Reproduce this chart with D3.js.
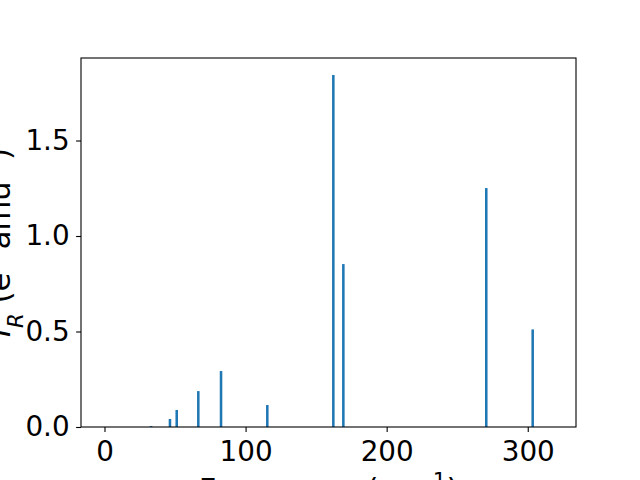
<!DOCTYPE html>
<html><head><meta charset="utf-8">
<script src="https://cdn.jsdelivr.net/npm/d3@7"></script>
<style>body{margin:0;background:#fff}svg{display:block}text{font-family:"DejaVu Sans",sans-serif}</style>
</head><body>
<script>
const frequencies = [33.0, 46.4, 51.2, 66.5, 82.6, 115.4, 162.2, 169.3, 270.6, 303.5];
const intensities = [0.005, 0.042, 0.089, 0.188, 0.293, 0.115, 1.843, 0.853, 1.251, 0.511];
const xTicks = [0, 100, 200, 300];
const yTicks = [0.0, 0.5, 1.0, 1.5];

const W = 640, H = 480;
const m = {left: 81, right: 576, top: 58, bottom: 427};
const svg = d3.select("body").append("svg").attr("width", W).attr("height", H);

const x = d3.scaleLinear().domain([-16.65, 334.2]).range([m.left, m.right]);
const y = d3.scaleLinear().domain([0, 1.932]).range([m.bottom, m.top]);
const barW = 1.8;

svg.append("g").selectAll("rect").data(frequencies).join("rect")
  .attr("x", (d) => x(d - barW / 2))
  .attr("width", x(barW) - x(0))
  .attr("y", (d, i) => y(intensities[i]))
  .attr("height", (d, i) => y(0) - y(intensities[i]))
  .attr("fill", "#1f77b4");

const fs = 27.8, lfs = 30.6;
const xAxis = svg.append("g").attr("transform", `translate(0,${m.bottom})`)
  .call(d3.axisBottom(x).tickValues(xTicks).tickFormat(d3.format("d")).tickSize(4.9).tickPadding(9.6));
const yAxis = svg.append("g").attr("transform", `translate(${m.left},0)`)
  .call(d3.axisLeft(y).tickValues(yTicks).tickFormat(d3.format(".1f")).tickSize(4.9).tickPadding(6.5));
[xAxis, yAxis].forEach(g => {
  g.select(".domain").remove();
  g.selectAll("line").attr("stroke", "#000").attr("stroke-width", 1.1);
  g.selectAll("text").attr("font-size", fs).attr("fill", "#000").attr("font-family", "DejaVu Sans");
});

svg.append("rect").attr("x", m.left).attr("y", m.top)
  .attr("width", m.right - m.left).attr("height", m.bottom - m.top)
  .attr("fill", "none").attr("stroke", "#000").attr("stroke-width", 1.1);

// x label
const xl = svg.append("text").attr("x", (m.left + m.right) / 2).attr("y", 500)
  .attr("text-anchor", "middle").attr("font-size", lfs);
xl.append("tspan").text("Frequency (cm");
xl.append("tspan").attr("baseline-shift", "super").attr("font-size", lfs * 0.7).text("-1");
xl.append("tspan").text(")");

// y label
const yl = svg.append("text").attr("transform", `translate(10,${(m.top + m.bottom) / 2}) rotate(-90)`)
  .attr("text-anchor", "middle").attr("font-size", lfs);
yl.append("tspan").attr("font-style", "italic").text("I");
yl.append("tspan").attr("font-style", "italic").attr("baseline-shift", "sub").attr("font-size", lfs * 0.7).text("R");
yl.append("tspan").text(" (e");
yl.append("tspan").attr("baseline-shift", "super").attr("font-size", lfs * 0.7).text("2");
yl.append("tspan").text(" amu");
yl.append("tspan").attr("baseline-shift", "super").attr("font-size", lfs * 0.7).text("-1");
yl.append("tspan").text(")");
</script>
</body></html>
